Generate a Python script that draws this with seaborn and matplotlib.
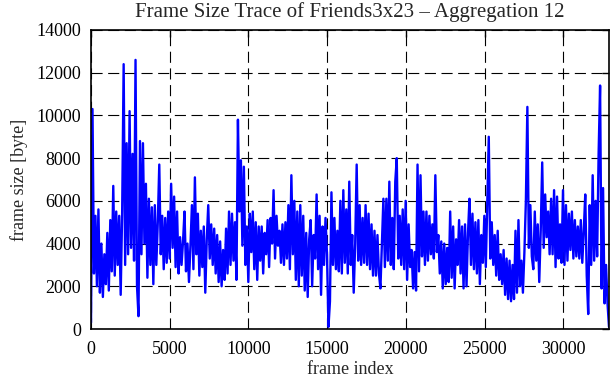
import numpy as np
import pandas as pd
import seaborn as sns
import matplotlib
matplotlib.use("Agg")
import matplotlib.pyplot as plt

# aggregated frame sizes (byte), left to right
seg1 = [300, 10300, 2600, 5300, 2000, 5600, 1700, 4000, 1500, 3500,
        2100, 4500, 1800, 5100, 2700, 6700, 2500, 5500, 3000, 5300,
        1600, 5500, 12400, 3000, 8700, 3500, 10200, 3800, 8200, 3200,
        12600, 2000, 600, 8800, 3500, 8700, 4000, 6800, 2400, 6100,
        3000, 5700, 2100, 5800, 3000, 5000, 7700, 3500, 5300]
seg2 = [2800, 5200, 3100, 5500, 3300, 6800, 3800, 6200, 2900, 5500,
        2600, 4300, 3000, 4100, 5500, 2700, 4000, 2200, 3900, 5800,
        2800, 7100, 3500, 5400, 2500, 4600, 2900, 4800, 1700, 4200,
        5800, 3300, 4900, 3000, 4700, 2600, 4400, 2200, 4100, 2000,
        3700, 2300, 4700, 2600, 5500, 3000, 5400, 3200, 5000]
seg3 = [2300, 9800, 5500, 7900, 3900, 7600, 3000, 4800, 2200, 5400,
        3600, 5500, 2800, 5000, 2300, 4800, 3200, 4800, 2600, 4500,
        3500, 5100, 2900, 5200, 4000, 6500, 3300, 5300, 3900, 4600,
        3100, 4900, 3000, 5000, 3300, 5800, 2800, 7200, 3500, 6000,
        2300, 5500, 2000, 5800, 2500, 5300, 1800, 4500, 1500, 4200]
seg4 = [5100, 2000, 4400, 3300, 6300, 2800, 5300, 1600, 4800, 3000,
        5200, 3500, 100, 1300, 6400, 3000, 5200, 2800, 4600, 2700,
        6000, 2600, 6500, 3100, 5600, 2600, 6900, 3000, 4400, 1700,
        4000, 7700, 3200, 5800, 3000, 5200, 3100, 5800, 3000, 5400,
        2800, 4900, 2500, 4600, 2500, 4400, 2600, 1900, 4000, 6100]
seg5 = [2900, 6100, 3200, 6900, 3000, 5200, 2800, 6900, 8000, 3300,
        5300, 3000, 5600, 2800, 6000, 2300, 4900, 2900, 3700, 1900,
        3600, 1800, 7700, 2700, 7200, 3400, 5500, 3000, 5500, 3200,
        5300, 3500, 4900, 3300, 7200, 3600, 4400, 2600, 4100, 1900,
        4000, 2100, 3800, 2200, 5500, 2400, 4800, 1900, 4200, 3000]
seg6 = [5100, 2600, 4800, 1900, 4900, 2000, 4500, 6100, 3000, 5400,
        2800, 5000, 2600, 5100, 2100, 4400, 3100, 5300, 2900, 6000,
        9000, 3300, 5000, 3000, 4400, 2500, 4600, 2300, 3500, 2100,
        3700, 1600, 3300, 1400, 3200, 1300, 3000, 1400, 4600, 1700,
        5100, 2000, 3200, 1700, 3600, 6000, 10400, 3800, 5800, 3400]
seg7 = [2800, 5500, 3200, 4900, 2200, 4600, 7800, 3800, 6300, 4300,
        5500, 3500, 6100, 3500, 6500, 2900, 6200, 3300, 4900, 3100,
        6500, 3000, 5800, 3200, 5400, 3700, 5500, 3300, 5100, 3400,
        4800, 3300, 5100, 3100, 4600, 6300, 2500, 700, 5800, 3000,
        7200, 3200, 6000, 3400, 8200, 11400, 1900, 6600, 1200, 3000,
        1200, 100]

frame_sizes = seg1 + seg2 + seg3 + seg4 + seg5 + seg6 + seg7
last_frame = 32900
df = pd.DataFrame({
    "frame": np.linspace(0, last_frame, len(frame_sizes)),
    "size": frame_sizes,
})

sns.set_theme(style="white")
plt.rcParams["font.family"] = ["Liberation Serif", "DejaVu Serif"]

fig = plt.figure(figsize=(6.11, 3.80), dpi=100)
ax = fig.add_axes([91 / 611, 51 / 380, 518 / 611, 299 / 380])

sns.lineplot(data=df, x="frame", y="size", ax=ax, color=(0, 0, 1),
             linewidth=1.7, estimator=None, sort=False, zorder=3)

ax.set_xlim(0, last_frame)
ax.set_ylim(0, 14000)
ax.set_xticks(np.arange(0, 30001, 5000))
ax.set_yticks(np.arange(0, 14001, 2000))
ax.set_axisbelow(True)
ax.grid(True, color="black", linestyle=(0, (10, 5)), linewidth=0.8)

for s in ax.spines.values():
    s.set_color("black")
    s.set_linewidth(1.2)
    s.set_zorder(5)
ax.tick_params(direction="in", length=5, width=1.0, colors="black",
               top=True, right=True, labelsize=13)
ax.tick_params(axis="x", pad=9)
ax.tick_params(axis="y", pad=7)

ax.set_title("Frame Size Trace of Friends3x23 – Aggregation 12",
             fontsize=15, pad=9)
ax.set_xlabel("frame index", fontsize=13, labelpad=2)
ax.set_ylabel("frame size [byte]", fontsize=13, labelpad=6)

fig.savefig("out.png", dpi=100)
